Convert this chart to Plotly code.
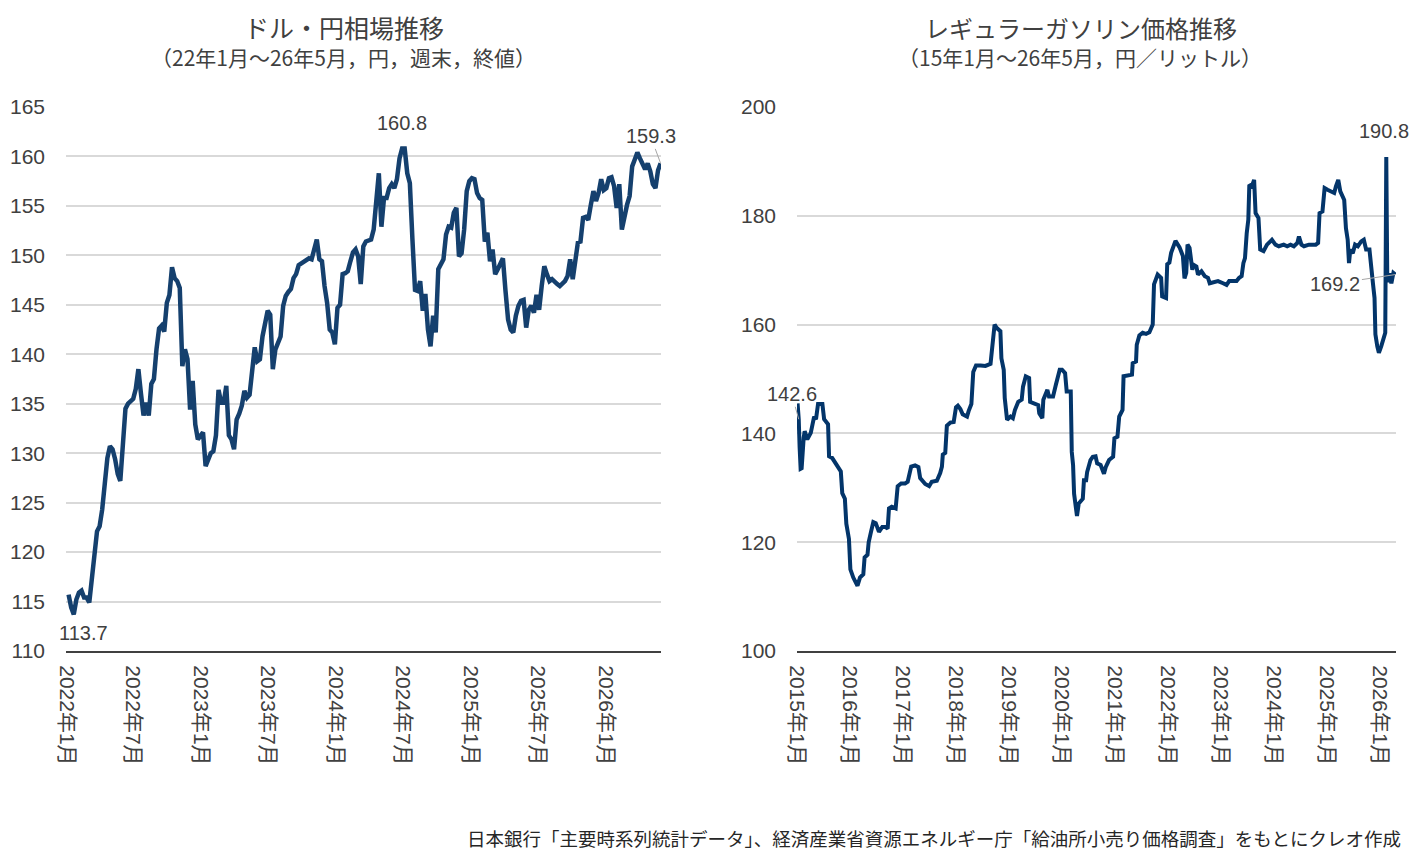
import pandas as pd
import plotly.graph_objects as go

# ドル・円 週末終値（2022年1月第1週から）
usd_jpy_start = "2022-01-07"
usd_jpy = [
    115.7, 114.4, 113.7, 115.2, 115.9, 116.1, 115.4, 115.4, 114.9, 117.3,
    119.3, 122.1, 122.6, 124.3, 126.9, 129.5, 130.7, 130.4, 129.4, 127.9,
    127.2, 131.0, 134.5, 135.0, 135.3, 135.5, 136.5, 138.5, 136.0, 133.8,
    135.1, 133.8, 137.0, 137.5, 140.5, 142.6, 142.9, 142.3, 145.2, 146.0,
    148.8, 147.7, 147.4, 146.7, 138.8, 140.5, 139.5, 134.4, 137.3, 132.9,
    131.4, 131.8, 132.1, 128.7, 129.4, 130.0, 130.2, 131.8, 136.4, 135.1,
    135.1, 136.8, 131.8, 131.4, 130.4, 133.4, 134.0, 134.8, 136.3, 135.6,
    135.9, 138.0, 140.7, 139.3, 139.5, 141.8, 143.0, 144.4, 144.0, 138.5,
    140.5, 141.3, 141.8, 144.9, 145.9, 146.3, 146.6, 147.7, 148.1, 149.0,
    149.2, 149.4, 149.5, 149.7, 149.6, 150.6, 151.6, 149.6, 149.4, 146.9,
    145.2, 142.5, 142.2, 141.0, 144.7, 145.0, 148.1, 148.2, 148.4, 149.4,
    150.3, 150.6, 149.9, 147.1, 150.9, 151.4, 151.5, 151.6, 152.6, 155.3,
    158.3, 152.9, 155.8, 155.8, 156.8, 157.2, 156.8, 157.7, 159.8, 160.8,
    160.8, 158.3, 157.3, 151.6, 146.5, 146.4, 147.4, 144.4, 146.1, 142.5,
    140.8, 143.9, 142.2, 148.6, 149.2, 149.6, 152.1, 152.9, 152.8, 154.3,
    154.8, 149.9, 150.2, 152.6, 156.5, 157.5, 157.8, 157.7, 156.3, 155.8,
    155.6, 151.4, 152.3, 149.4, 150.6, 148.1, 148.6, 149.1, 149.7, 146.4,
    143.5, 142.5, 142.2, 143.9, 144.9, 145.4, 145.5, 142.7, 144.5, 144.9,
    144.2, 146.0, 144.5, 146.9, 148.9, 148.1, 147.4, 147.6, 147.3, 147.1,
    146.9, 147.1, 147.4, 147.9, 149.6, 147.6, 149.9, 151.3, 151.4, 153.8,
    153.9, 153.6, 155.1, 156.5, 155.5, 156.3, 157.7, 156.6, 156.8, 157.8,
    157.9, 157.0, 154.8, 157.2, 152.6, 154.1, 155.1, 156.0, 159.0, 159.7,
    160.4, 159.8, 159.3, 158.7, 159.3, 158.5, 157.2, 156.8, 158.6, 159.3,
]
usd_jpy_dates = pd.date_range(usd_jpy_start, periods=len(usd_jpy), freq="7D")

# レギュラーガソリン店頭価格（円/リットル）
gas_dates = [
    "2015-01-05", "2015-01-13", "2015-01-19", "2015-01-26", "2015-02-02", "2015-02-09",
    "2015-02-16", "2015-02-23", "2015-03-13", "2015-04-06", "2015-04-29", "2015-05-12",
    "2015-05-26", "2015-06-25", "2015-07-07", "2015-08-03", "2015-08-10", "2015-08-31",
    "2015-09-30", "2015-10-30", "2015-11-09", "2015-11-27", "2015-12-07", "2015-12-25",
    "2016-01-04", "2016-01-24", "2016-02-22", "2016-03-10", "2016-04-02", "2016-04-11",
    "2016-05-01", "2016-05-09", "2016-05-25", "2016-06-10", "2016-06-27", "2016-07-19",
    "2016-08-11", "2016-09-01", "2016-09-17", "2016-09-26", "2016-10-15", "2016-11-11",
    "2016-11-25", "2016-12-19", "2017-01-15", "2017-02-02", "2017-02-26", "2017-03-25",
    "2017-04-17", "2017-04-29", "2017-06-03", "2017-06-30", "2017-07-18", "2017-08-22",
    "2017-09-14", "2017-09-26", "2017-10-02", "2017-10-19", "2017-10-30", "2017-11-23",
    "2017-12-16", "2018-01-01", "2018-01-14", "2018-01-31", "2018-02-16", "2018-03-18",
    "2018-03-29", "2018-04-17", "2018-04-30", "2018-05-19", "2018-06-20", "2018-07-23",
    "2018-08-27", "2018-09-03", "2018-09-10", "2018-09-24", "2018-10-08", "2018-11-03",
    "2018-11-10", "2018-11-26", "2018-12-03", "2018-12-19", "2019-01-12", "2019-01-28",
    "2019-02-11", "2019-03-06", "2019-03-30", "2019-04-08", "2019-04-27", "2019-05-20",
    "2019-05-27", "2019-06-22", "2019-07-22", "2019-07-29", "2019-08-19", "2019-08-26",
    "2019-09-23", "2019-10-04", "2019-11-01", "2019-11-20", "2019-12-17", "2020-01-02",
    "2020-01-23", "2020-02-03", "2020-03-02", "2020-03-09", "2020-03-18", "2020-03-25",
    "2020-04-14", "2020-04-26", "2020-05-24", "2020-06-01", "2020-06-16", "2020-06-23",
    "2020-07-16", "2020-08-01", "2020-08-20", "2020-08-31", "2020-09-24", "2020-10-17",
    "2020-10-29", "2020-11-21", "2020-12-19", "2020-12-28", "2021-01-18", "2021-01-30",
    "2021-02-22", "2021-03-01", "2021-03-29", "2021-04-28", "2021-05-03", "2021-05-26",
    "2021-05-31", "2021-06-18", "2021-07-11", "2021-08-03", "2021-08-26", "2021-09-18",
    "2021-09-27", "2021-10-22", "2021-11-15", "2021-11-22", "2021-12-19", "2021-12-27",
    "2022-01-11", "2022-01-23", "2022-02-22", "2022-03-22", "2022-04-14", "2022-04-25",
    "2022-05-07", "2022-05-16", "2022-05-30", "2022-06-18", "2022-06-27", "2022-07-16",
    "2022-07-27", "2022-08-20", "2022-09-12", "2022-10-04", "2022-10-16", "2022-11-08",
    "2022-12-12", "2023-01-16", "2023-02-09", "2023-02-27", "2023-03-27", "2023-04-19",
    "2023-05-07", "2023-05-24", "2023-06-05", "2023-06-16", "2023-06-28", "2023-07-09",
    "2023-07-16", "2023-08-02", "2023-08-18", "2023-08-28", "2023-09-17", "2023-09-29",
    "2023-10-22", "2023-11-15", "2023-12-19", "2024-01-12", "2024-02-04", "2024-03-09",
    "2024-04-02", "2024-04-25", "2024-05-18", "2024-06-11", "2024-06-22", "2024-07-09",
    "2024-07-27", "2024-08-30", "2024-09-23", "2024-10-16", "2024-11-01", "2024-11-11",
    "2024-12-01", "2024-12-16", "2025-01-05", "2025-01-28", "2025-02-20", "2025-03-04",
    "2025-03-20", "2025-04-03", "2025-04-19", "2025-04-30", "2025-05-12", "2025-05-24",
    "2025-06-02", "2025-06-11", "2025-06-28", "2025-07-14", "2025-08-02", "2025-08-25",
    "2025-09-12", "2025-09-21", "2025-09-28", "2025-10-21", "2025-11-02", "2025-11-14",
    "2025-11-25", "2025-12-01", "2025-12-14", "2025-12-25", "2026-01-10", "2026-01-22",
    "2026-02-07", "2026-02-14", "2026-02-21", "2026-03-07", "2026-03-21", "2026-04-04",
    "2026-04-18",
]
gas_price = [
    145.5, 142.6, 137.5, 133.5, 133.6, 138.7,
    139.2, 140.4, 138.9, 140.1, 143.1, 142.6,
    145.4, 145.4, 142.6, 141.7, 135.8, 135.5,
    134.2, 133.0, 129.0, 128.0, 123.4, 120.6,
    115.0, 113.5, 112.0, 113.5, 114.1, 117.2,
    117.7, 120.0, 121.9, 123.7, 123.5, 121.9,
    122.8, 122.8, 122.5, 126.2, 126.5, 126.2,
    130.3, 130.8, 130.8, 131.1, 133.9, 134.1,
    133.8, 131.8, 130.7, 130.3, 131.1, 131.3,
    132.7, 133.9, 136.1, 136.4, 141.4, 142.0,
    142.1, 144.8, 145.1, 144.5, 143.5, 143.1,
    144.1, 145.4, 151.3, 152.5, 152.5, 152.4,
    152.8, 154.7, 155.3, 160.0, 159.4, 158.8,
    153.8, 151.7, 146.5, 142.5, 143.1, 142.8,
    144.3, 145.8, 146.2, 148.6, 150.5, 150.2,
    145.8, 145.5, 145.2, 143.7, 142.8, 146.2,
    148.0, 146.8, 146.8, 148.9, 151.7, 151.7,
    151.1, 147.7, 147.7, 136.6, 134.2, 128.9,
    124.8, 127.1, 128.0, 131.4, 131.4, 132.9,
    135.1, 135.7, 135.8, 134.5, 134.2, 132.6,
    133.8, 135.1, 135.7, 139.1, 139.4, 143.1,
    144.3, 150.5, 150.6, 150.8, 152.9, 153.2,
    156.3, 158.0, 158.5, 158.3, 158.6, 160.0,
    167.4, 169.2, 168.6, 165.2, 164.9, 171.1,
    171.4, 173.2, 175.4, 174.2, 172.6, 168.5,
    169.5, 174.7, 174.1, 170.1, 171.0, 170.7,
    169.2, 169.8, 168.9, 168.6, 167.6, 167.8,
    168.0, 167.6, 167.3, 168.0, 168.0, 168.0,
    168.6, 168.9, 171.3, 172.2, 176.8, 179.3,
    185.7, 185.4, 186.6, 180.5, 179.6, 173.8,
    173.5, 174.7, 175.6, 174.7, 174.4, 174.7,
    174.4, 174.7, 174.4, 175.0, 176.2, 174.7,
    174.4, 174.7, 174.7, 174.7, 175.0, 180.5,
    180.8, 185.1, 184.8, 184.5, 184.2, 185.4,
    186.6, 184.5, 183.5, 182.9, 177.7, 175.6,
    171.3, 173.8, 173.1, 174.7, 174.4, 175.3,
    175.6, 174.4, 173.8, 173.8, 169.5, 167.6,
    164.9, 158.2, 156.0, 154.8, 156.0, 156.9,
    158.5, 190.8, 167.8, 169.4, 167.6, 169.5,
    169.2,
]

TXT = "#404040"
GRID = "#d9d9d9"
NUM_FONT = "Liberation Sans, Noto Sans CJK JP"
JP_FONT = "Noto Sans CJK JP"
OFF = 8                      # page body margin
W, H = 1418 - OFF, 863 - OFF


def px(x):
    return (x - OFF) / W


def py(y):
    return (H - (y - OFF)) / H


fig = go.Figure()
fig.add_trace(go.Scatter(x=usd_jpy_dates, y=usd_jpy, mode="lines",
                         line=dict(color="#15406e", width=4.5), xaxis="x", yaxis="y",
                         showlegend=False))
fig.add_trace(go.Scatter(x=pd.to_datetime(gas_dates), y=gas_price, mode="lines",
                         line=dict(color="#03356a", width=4), xaxis="x2", yaxis="y2",
                         showlegend=False))

xcommon = dict(showgrid=False, zeroline=False, showline=True, linecolor=TXT, linewidth=2,
               ticks="", tickangle=90, tickformat="%Y年%-m月", automargin=False,
               tickfont=dict(family=NUM_FONT, size=21, color=TXT), ticklabelstandoff=8)
ycommon = dict(showgrid=True, gridcolor=GRID, gridwidth=2, zeroline=False, showline=False,
               ticks="", tickfont=dict(family=NUM_FONT, size=21, color=TXT),
               ticklabelstandoff=20, automargin=False)

fig.update_layout(
    width=W, height=H,
    paper_bgcolor="white", plot_bgcolor="white",
    margin=dict(l=0, r=0, t=0, b=0, autoexpand=False),
    xaxis=dict(domain=[px(66), px(661)], range=["2021-12-31", "2026-05-30"],
               dtick="M6", tick0="2022-01-01", anchor="y", **xcommon),
    yaxis=dict(domain=[py(651), py(107)], range=[110, 165], dtick=5, anchor="x", **ycommon),
    xaxis2=dict(domain=[px(797), px(1396)], range=["2015-01-01", "2026-04-22"],
                dtick="M12", tick0="2015-01-01", anchor="y2", **xcommon),
    yaxis2=dict(domain=[py(651), py(107)], range=[100, 200], dtick=20, anchor="x2", **ycommon),
)


def title(text, x, y, size):
    fig.add_annotation(text=text, xref="paper", yref="paper", x=px(x), y=py(y),
                       xanchor="center", yanchor="middle", showarrow=False,
                       font=dict(family=JP_FONT, size=size, color=TXT))


title("ドル・円相場推移", 344, 27, 25)
title("（22年1月～26年5月，円，週末，終値）", 343, 57, 21)
title("レギュラーガソリン価格推移", 1081, 27, 24)
title("（15年1月～26年5月，円／リットル）", 1080, 57, 21)

fig.add_annotation(text="日本銀行「主要時系列統計データ」、経済産業省資源エネルギー庁「給油所小売り価格調査」をもとにクレオ作成",
                   xref="paper", yref="paper", x=px(1403), y=py(838),
                   xanchor="right", yanchor="middle", showarrow=False,
                   font=dict(family=JP_FONT, size=18.5, color="#262626"))

lab = dict(family=NUM_FONT, size=20, color=TXT)
i_min = usd_jpy.index(min(usd_jpy))
i_max = usd_jpy.index(max(usd_jpy))
fig.add_annotation(x=usd_jpy_dates[i_min], y=usd_jpy[i_min], xref="x", yref="y",
                   text=f"{usd_jpy[i_min]:.1f}", showarrow=False, xshift=10, yshift=-19, font=lab)
fig.add_annotation(x=usd_jpy_dates[i_max], y=usd_jpy[i_max], xref="x", yref="y",
                   text=f"{usd_jpy[i_max]:.1f}", showarrow=False, xshift=0, yshift=26, font=lab)
fig.add_annotation(x=usd_jpy_dates[-1], y=usd_jpy[-1], xref="x", yref="y",
                   text=f"{usd_jpy[-1]:.1f}", showarrow=True, arrowhead=0, arrowwidth=1,
                   arrowcolor="#a6a6a6", ax=-10, ay=-27, font=lab)

g_max = gas_price.index(max(gas_price))
fig.add_annotation(x=gas_dates[g_max], y=gas_price[g_max], xref="x2", yref="y2",
                   text=f"{gas_price[g_max]:.1f}", showarrow=False, xshift=-2, yshift=26, font=lab)
fig.add_annotation(x=gas_dates[-1], y=gas_price[-1], xref="x2", yref="y2",
                   text=f"{gas_price[-1]:.1f}", showarrow=True, arrowhead=0, arrowwidth=1,
                   arrowcolor="#a6a6a6", ax=-60, ay=9, font=lab)
fig.add_annotation(x=gas_dates[1], y=gas_price[1], xref="x2", yref="y2",
                   text=f"{gas_price[1]:.1f}", showarrow=True, arrowhead=0, arrowwidth=1,
                   arrowcolor="#a6a6a6", ax=-7, ay=-25, font=lab)

fig.write_html("out.html")
